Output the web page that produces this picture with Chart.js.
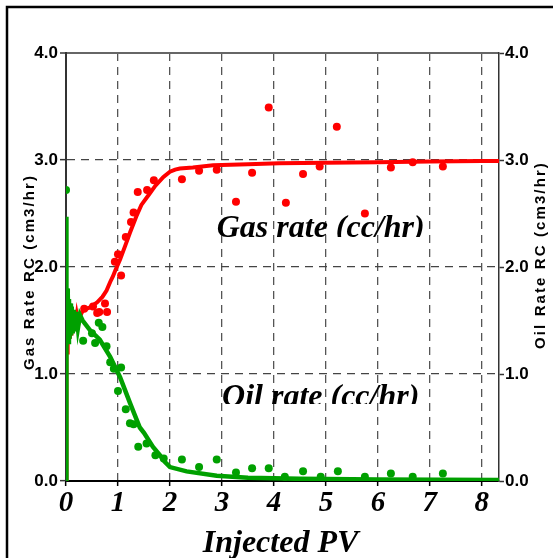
<!DOCTYPE html>
<html>
<head>
<meta charset="utf-8">
<script src="https://cdn.jsdelivr.net/npm/chart.js@4/dist/chart.umd.min.js"></script>
<style>
  html, body { margin: 0; padding: 0; background: #fff; }
  canvas { display: block; }
</style>
</head>
<body>
<canvas id="rateChart" width="553" height="558"></canvas>
<script>
// measured gas rate
const gasPV   = [0.35, 0.52, 0.6, 0.64, 0.75, 0.79, 0.94, 1.0, 1.06, 1.15, 1.25, 1.3, 1.38, 1.56, 1.69, 2.23, 2.56, 2.9, 3.27, 3.58, 3.9, 4.23, 4.56, 4.88, 5.21, 5.75, 6.25, 6.67, 7.25];
const gasRate = [1.61, 1.63, 1.57, 1.58, 1.66, 1.58, 2.05, 2.12, 1.92, 2.28, 2.42, 2.51, 2.70, 2.72, 2.81, 2.82, 2.90, 2.91, 2.61, 2.88, 3.49, 2.60, 2.87, 2.94, 3.31, 2.50, 2.93, 2.98, 2.94];

// measured oil rate
const oilPV   = [0, 0.33, 0.5, 0.56, 0.63, 0.7, 0.78, 0.85, 0.92, 1.0, 1.06, 1.15, 1.23, 1.3, 1.39, 1.55, 1.72, 1.88, 2.23, 2.56, 2.9, 3.27, 3.58, 3.9, 4.21, 4.56, 4.9, 5.23, 5.75, 6.25, 6.67, 7.25];
const oilRate = [2.72, 1.31, 1.38, 1.29, 1.48, 1.44, 1.26, 1.11, 1.05, 0.84, 1.06, 0.67, 0.54, 0.53, 0.32, 0.35, 0.24, 0.21, 0.20, 0.13, 0.20, 0.08, 0.12, 0.12, 0.04, 0.09, 0.04, 0.09, 0.04, 0.07, 0.04, 0.07];

// simulated gas rate
const gasSimPV   = [0, 0.005, 0.012, 0.02, 0.028, 0.036, 0.045, 0.055, 0.065, 0.075, 0.09, 0.105, 0.12, 0.14, 0.16, 0.18, 0.21, 0.24, 0.28, 0.33, 0.45, 0.6, 0.7, 0.78, 0.85, 0.9, 0.95, 1.04, 1.14, 1.23, 1.35, 1.45, 1.6, 1.72, 1.87, 2.0, 2.1, 2.19, 2.44, 2.83, 3.5, 4.1, 5.0, 6.0, 7.0, 8.0, 8.33];
const gasSimRate = [0, 1.15, 1.72, 1.2, 1.68, 1.25, 1.66, 1.3, 1.62, 1.33, 1.6, 1.36, 1.58, 1.4, 1.56, 1.43, 1.55, 1.47, 1.55, 1.6, 1.62, 1.67, 1.72, 1.78, 1.86, 1.91, 1.97, 2.07, 2.2, 2.32, 2.47, 2.58, 2.68, 2.76, 2.84, 2.89, 2.91, 2.92, 2.93, 2.95, 2.96, 2.97, 2.975, 2.98, 2.985, 2.99, 2.99];

// simulated oil rate
const oilSimPV   = [0, 0.002, 0.005, 0.01, 0.016, 0.022, 0.03, 0.038, 0.047, 0.057, 0.068, 0.08, 0.095, 0.11, 0.13, 0.15, 0.17, 0.2, 0.23, 0.27, 0.32, 0.46, 0.65, 0.85, 1.04, 1.23, 1.32, 1.42, 1.5, 1.67, 1.81, 1.9, 2.0, 2.32, 2.9, 3.5, 4.5, 6.0, 8.33];
const oilSimRate = [0, 2.47, 1.3, 1.86, 1.25, 1.8, 1.28, 1.75, 1.3, 1.7, 1.33, 1.66, 1.36, 1.63, 1.38, 1.6, 1.4, 1.58, 1.43, 1.55, 1.5, 1.41, 1.32, 1.16, 0.97, 0.73, 0.62, 0.5, 0.45, 0.32, 0.24, 0.18, 0.13, 0.09, 0.05, 0.03, 0.02, 0.015, 0.01];

const xTicks = [0, 1, 2, 3, 4, 5, 6, 7, 8];
const yTicks = [0, 1, 2, 3, 4];

const RED = '#ff0000';
const GREEN = '#00a000';

const pts = (xs, ys) => xs.map((x, i) => ({ x, y: ys[i] }));

// frame, axis titles and curve labels
const decorations = {
  id: 'decorations',
  beforeDraw(chart) {
    const { ctx, width, height } = chart;
    ctx.save();
    ctx.fillStyle = '#fff';
    ctx.fillRect(0, 0, width, height);
    ctx.restore();
  },
  afterDraw(chart) {
    const { ctx, scales } = chart;
    const { x, y } = scales;
    ctx.save();

    // outer frame
    ctx.strokeStyle = '#000';
    ctx.lineWidth = 2.5;
    ctx.beginPath();
    ctx.moveTo(7, 558);
    ctx.lineTo(7, 7);
    ctx.lineTo(553, 7);
    ctx.stroke();

    // curve labels (bottom edge cut off)
    ctx.fillStyle = '#000';
    ctx.font = 'italic bold 32px "Liberation Serif"';
    ctx.textAlign = 'center';
    ctx.textBaseline = 'alphabetic';
    const label = (text, xv, yv, cut) => {
      const px = x.getPixelForValue(xv);
      const py = y.getPixelForValue(yv);
      ctx.save();
      ctx.beginPath();
      ctx.rect(px - 150, py - 40, 300, 40 + cut);
      ctx.clip();
      ctx.fillText(text, px, py);
      ctx.restore();
    };
    label('Gas rate (cc/hr)', 4.9, 2.28, 0);
    label('Oil rate (cc/hr)', 4.9, 0.70, -2);

    // x axis title
    ctx.fillText('Injected PV', (x.left + x.right) / 2 - 2, 552);

    // y axis titles
    ctx.font = 'bold 15px "Liberation Sans"';
    ctx.letterSpacing = '2.1px';
    ctx.textBaseline = 'middle';
    ctx.save();
    ctx.translate(30, 272);
    ctx.rotate(-Math.PI / 2);
    ctx.fillText('Gas Rate RC (cm3/hr)', 0, 0);
    ctx.restore();
    ctx.save();
    ctx.translate(541, 255);
    ctx.rotate(-Math.PI / 2);
    ctx.fillText('Oil Rate RC (cm3/hr)', 0, 0);
    ctx.restore();

    ctx.restore();
  }
};

const ctx = document.getElementById('rateChart').getContext('2d');
new Chart(ctx, {
  type: 'line',
  data: {
    datasets: [
      {
        label: 'Oil sim',
        data: pts(oilSimPV, oilSimRate),
        borderColor: GREEN,
        borderWidth: 4.5,
        pointRadius: 0,
        tension: 0
      },
      {
        label: 'Gas sim',
        data: pts(gasSimPV, gasSimRate),
        borderColor: RED,
        borderWidth: 4,
        pointRadius: 0,
        tension: 0
      },
      {
        label: 'Oil',
        data: pts(oilPV, oilRate),
        showLine: false,
        pointRadius: 4,
        pointBorderWidth: 0,
        pointBackgroundColor: GREEN,
        borderColor: GREEN
      },
      {
        label: 'Gas',
        data: pts(gasPV, gasRate),
        showLine: false,
        pointRadius: 4,
        pointBorderWidth: 0,
        pointBackgroundColor: RED,
        borderColor: RED
      }
    ]
  },
  options: {
    responsive: false,
    animation: false,
    devicePixelRatio: 1,
    layout: { padding: { top: 53, left: 0, right: 0, bottom: 0 } },
    plugins: {
      legend: { display: false },
      tooltip: { enabled: false }
    },
    scales: {
      x: {
        type: 'linear',
        min: 0,
        max: 8.33,
        afterBuildTicks: s => { s.ticks = xTicks.map(v => ({ value: v })); },
        afterFit: s => { s.height = 77; },
        ticks: {
          padding: 0,
          color: '#000',
          font: { family: 'Liberation Serif', size: 29, style: 'italic', weight: 'bold' }
        },
        grid: {
          color: c => (c.tick && c.tick.value === 0) ? 'rgba(0,0,0,0)' : '#555',
          lineWidth: 1.3,
          tickColor: '#000',
          tickLength: 5,
          tickWidth: 1.5
        },
        border: {
          color: '#000',
          width: 2,
          dash: [8, 6]
        }
      },
      y: {
        position: 'left',
        min: 0,
        max: 4,
        afterBuildTicks: s => { s.ticks = yTicks.map(v => ({ value: v })); },
        afterFit: s => { s.width = 66; },
        ticks: {
          padding: 2,
          color: '#000',
          font: { family: 'Liberation Sans', size: 17, weight: 'bold' },
          callback: v => v.toFixed(1)
        },
        grid: {
          color: c => {
            if (!c.tick) return '#555';
            if (c.tick.value === 0) return 'rgba(0,0,0,0)';
            return c.tick.value === 4 ? '#666' : '#444';
          },
          lineWidth: c => (c.tick && c.tick.value === 4) ? 2 : 1.3,
          tickColor: '#333',
          tickLength: 6,
          tickWidth: 1.5
        },
        border: {
          color: '#333',
          width: 2,
          dash: c => (c.tick && c.tick.value === 4) ? [] : [8, 6]
        }
      },
      y2: {
        position: 'right',
        min: 0,
        max: 4,
        afterBuildTicks: s => { s.ticks = yTicks.map(v => ({ value: v })); },
        afterFit: s => { s.width = 54; },
        ticks: {
          padding: 1,
          color: '#000',
          font: { family: 'Liberation Sans', size: 17, weight: 'bold' },
          callback: v => v.toFixed(1)
        },
        grid: {
          drawOnChartArea: false,
          tickColor: '#333',
          tickLength: 5,
          tickWidth: 1.5
        },
        border: { color: '#333', width: 1.5 }
      }
    }
  },
  plugins: [decorations]
});
</script>
</body>
</html>
